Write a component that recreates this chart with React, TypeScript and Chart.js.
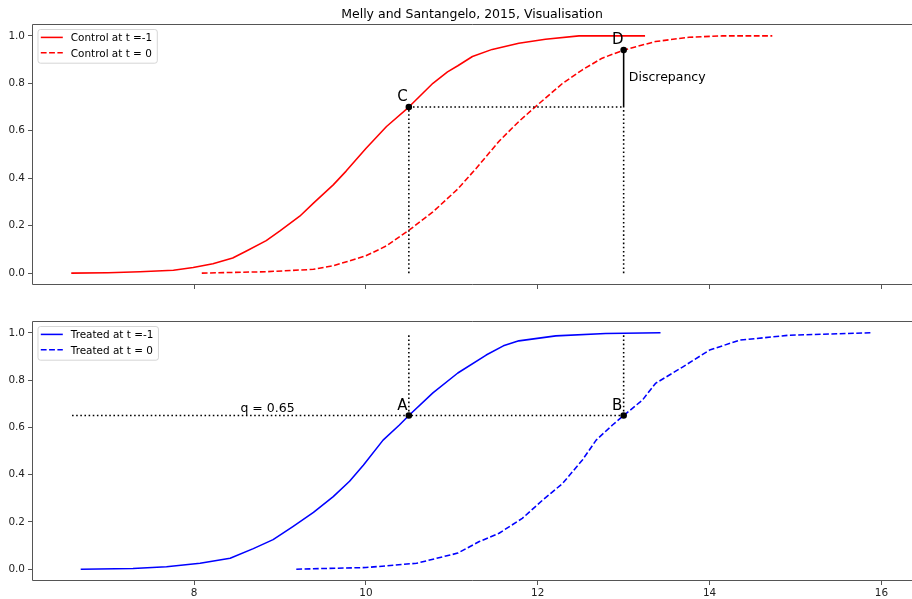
import React, { useEffect, useRef } from "react";
import { Chart, registerables } from "chart.js";

Chart.register(...registerables);

const FONT = '"DejaVu Sans", sans-serif';
const RED = "#ff0000";
const BLUE = "#0000ff";

// Empirical CDFs of the outcome, as [outcome, cumulative share]
const controlBefore: [number, number][] = [
  [6.58, 0], [7.0, 0.002], [7.37, 0.006], [7.76, 0.012], [7.99, 0.024], [8.22, 0.04],
  [8.45, 0.064], [8.61, 0.093], [8.84, 0.137], [9.0, 0.178], [9.23, 0.24], [9.39, 0.295],
  [9.62, 0.372], [9.77, 0.43], [10.0, 0.525], [10.24, 0.618], [10.5, 0.7], [10.78, 0.8],
  [10.95, 0.848], [11.07, 0.874], [11.24, 0.913], [11.47, 0.943], [11.78, 0.969], [12.09, 0.986],
  [12.48, 1.0], [13.24, 1.0],
];
const controlAfter: [number, number][] = [
  [8.09, 0], [8.84, 0.006], [9.39, 0.016], [9.62, 0.031], [10.0, 0.073], [10.24, 0.115],
  [10.51, 0.183], [10.78, 0.258], [11.07, 0.355], [11.28, 0.44], [11.55, 0.556],
  [11.78, 0.639], [12.02, 0.716], [12.29, 0.8], [12.52, 0.857], [12.75, 0.906],
  [13.0, 0.94], [13.37, 0.976], [13.76, 0.994], [14.15, 1.0], [14.73, 1.0],
];
const treatedBefore: [number, number][] = [
  [6.69, 0], [7.29, 0.003], [7.68, 0.01], [8.07, 0.025], [8.42, 0.046], [8.69, 0.087],
  [8.92, 0.125], [9.15, 0.18], [9.39, 0.24], [9.62, 0.307], [9.81, 0.372], [9.97, 0.44],
  [10.2, 0.546], [10.39, 0.61], [10.5, 0.65], [10.78, 0.746], [11.07, 0.83], [11.4, 0.906],
  [11.6, 0.945], [11.78, 0.966], [12.21, 0.987], [12.79, 0.997], [13.42, 1.0],
];
const treatedAfter: [number, number][] = [
  [9.19, 0], [10.0, 0.007], [10.59, 0.025], [11.07, 0.068], [11.32, 0.117], [11.55, 0.152],
  [11.82, 0.215], [12.06, 0.293], [12.29, 0.363], [12.52, 0.462], [12.68, 0.546],
  [12.87, 0.61], [13.0, 0.65], [13.22, 0.716], [13.37, 0.786], [13.69, 0.856], [14.0, 0.927],
  [14.35, 0.969], [14.93, 0.99], [15.88, 1.0],
];

const xTicks = [8, 10, 12, 14, 16];
const yTicks = [0, 0.2, 0.4, 0.6, 0.8, 1.0];
const xMin = 6.114;
const xMax = 16.356;
const yMin = -0.05;
const yMax = 1.05;

// Quantile construction
const quantile = 0.65;
const xA = 10.5; // treated outcome at q, t = -1
const xB = 13.0; // treated outcome at q, t = 0
const yC = 0.7; // control CDF at xA, t = -1
const yD = 0.94; // control CDF at xB, t = 0
const xStart = 6.58;

const TITLE = "Melly and Santangelo, 2015, Visualisation";

const pts = (arr: [number, number][]) => arr.map(([x, y]) => ({ x, y }));

const LW = 1.56;
const DASH = [5.8, 2.5];
const DOT = [1.56, 2.58];

function curve(data: [number, number][], color: string, dashed: boolean, order: number) {
  return {
    data: pts(data),
    borderColor: color,
    borderWidth: LW,
    borderDash: dashed ? DASH : [],
    borderCapStyle: dashed ? "butt" : "square",
    borderJoinStyle: "round",
    pointRadius: 0,
    tension: 0,
    fill: false,
    order,
  };
}

function guide(data: [number, number][], dotted: boolean, order: number) {
  return {
    data: pts(data),
    borderColor: "#000",
    borderWidth: LW,
    borderDash: dotted ? DOT : [],
    borderCapStyle: "butt",
    pointRadius: 0,
    tension: 0,
    fill: false,
    order,
  };
}

function markers(data: [number, number][]) {
  return {
    data: pts(data),
    showLine: false,
    pointRadius: 3.3,
    pointBackgroundColor: "#000",
    pointBorderWidth: 0,
    order: 0,
  };
}

function text(ctx: CanvasRenderingContext2D, s: string, x: number, y: number, size: number, align: CanvasTextAlign = "left") {
  ctx.font = `${size}px ${FONT}`;
  ctx.fillStyle = "#000";
  ctx.textAlign = align;
  ctx.textBaseline = "alphabetic";
  ctx.fillText(s, x, y);
}

function frame(ctx: CanvasRenderingContext2D, a: any) {
  ctx.strokeStyle = "#555";
  ctx.lineWidth = 1;
  ctx.setLineDash([]);
  ctx.beginPath();
  ctx.moveTo(a.right + 1, a.top + 0.5);
  ctx.lineTo(a.left + 0.5, a.top + 0.5);
  ctx.lineTo(a.left + 0.5, a.bottom - 0.5);
  ctx.lineTo(a.right + 1, a.bottom - 0.5);
  ctx.stroke();
}

type Entry = { label: string; color: string; dashed: boolean };

function legend(ctx: CanvasRenderingContext2D, left: number, top: number, entries: Entry[]) {
  const size = 10.44;
  ctx.font = `${size}px ${FONT}`;
  const tw = Math.max(...entries.map((e) => ctx.measureText(e.label).width));
  const w = 33.3 + tw + 4.6;
  const h = 33.7;
  ctx.beginPath();
  ctx.roundRect(left + 0.5, top + 0.5, w, h, 2.5);
  ctx.fillStyle = "rgba(255,255,255,0.8)";
  ctx.fill();
  ctx.strokeStyle = "rgba(204,204,204,0.8)";
  ctx.lineWidth = 1;
  ctx.stroke();
  entries.forEach((e, i) => {
    const cy = top + 8.4 + i * 15.4;
    ctx.beginPath();
    ctx.strokeStyle = e.color;
    ctx.lineWidth = LW;
    ctx.setLineDash(e.dashed ? DASH : []);
    ctx.lineCap = "butt";
    ctx.moveTo(left + 3.3, cy);
    ctx.lineTo(left + 25.3, cy);
    ctx.stroke();
    ctx.setLineDash([]);
    text(ctx, e.label, left + 33.3, cy + 4, size);
  });
}

function axes(showXLabels: boolean, xHeight: number) {
  const tickFont = { family: FONT, size: 10.44 };
  return {
    x: {
      type: "linear",
      min: xMin,
      max: xMax,
      afterBuildTicks: (s: any) => {
        s.ticks = xTicks.map((value) => ({ value }));
      },
      afterFit: (s: any) => {
        s.height = xHeight;
      },
      ticks: {
        autoSkip: false,
        maxRotation: 0,
        padding: 2,
        color: "#222",
        font: tickFont,
        callback: (v: any) => (showXLabels ? String(v) : ""),
      },
      grid: { drawOnChartArea: false, drawTicks: true, tickLength: 4, color: "#555", lineWidth: 1 },
      border: { display: false },
    },
    y: {
      type: "linear",
      min: yMin,
      max: yMax,
      afterBuildTicks: (s: any) => {
        s.ticks = yTicks.map((value) => ({ value }));
      },
      afterFit: (s: any) => {
        s.width = 32;
      },
      ticks: {
        padding: 3,
        color: "#222",
        font: tickFont,
        callback: (v: any) => Number(v).toFixed(1),
      },
      grid: { drawOnChartArea: false, drawTicks: true, tickLength: 4, color: "#555", lineWidth: 1 },
      border: { display: false },
    },
  };
}

export default function App() {
  const topRef = useRef<HTMLCanvasElement>(null);
  const bottomRef = useRef<HTMLCanvasElement>(null);

  useEffect(() => {
    const topDecor = {
      id: "topDecor",
      afterDraw(chart: any) {
        const { ctx, chartArea: a } = chart;
        const x = chart.scales.x;
        const y = chart.scales.y;
        ctx.save();
        frame(ctx, a);
        text(ctx, TITLE, (a.left + a.right) / 2, 17.5, 12.5, "center");
        text(ctx, "C", x.getPixelForValue(xA - 0.135), y.getPixelForValue(yC + 0.024), 15);
        text(ctx, "D", x.getPixelForValue(xB - 0.135), y.getPixelForValue(yD + 0.027), 15);
        text(ctx, "Discrepancy", x.getPixelForValue(13.06), y.getPixelForValue(0.808), 12.5);
        legend(ctx, a.left + 5.5, a.top + 5, [
          { label: "Control at t =-1", color: RED, dashed: false },
          { label: "Control at t = 0", color: RED, dashed: true },
        ]);
        ctx.restore();
      },
    };

    const bottomDecor = {
      id: "bottomDecor",
      afterDraw(chart: any) {
        const { ctx, chartArea: a } = chart;
        const x = chart.scales.x;
        const y = chart.scales.y;
        ctx.save();
        frame(ctx, a);
        text(ctx, "A", x.getPixelForValue(xA - 0.135), y.getPixelForValue(quantile + 0.024), 15);
        text(ctx, "B", x.getPixelForValue(xB - 0.135), y.getPixelForValue(quantile + 0.024), 15);
        text(ctx, `q = ${quantile}`, x.getPixelForValue(8.54), y.getPixelForValue(0.663), 12.5);
        legend(ctx, a.left + 5.5, a.top + 5, [
          { label: "Treated at t =-1", color: BLUE, dashed: false },
          { label: "Treated at t = 0", color: BLUE, dashed: true },
        ]);
        ctx.restore();
      },
    };

    const baseOptions = (padTop: number, showXLabels: boolean, xHeight: number) => ({
      responsive: false,
      animation: false,
      events: [],
      layout: { autoPadding: false, padding: { top: padTop, left: 0, right: 0, bottom: 0 } },
      plugins: { legend: { display: false }, tooltip: { enabled: false }, title: { display: false } },
      scales: axes(showXLabels, xHeight),
    });

    const top = new Chart(topRef.current!, {
      type: "line",
      data: {
        datasets: [
          curve(controlBefore, RED, false, 6),
          curve(controlAfter, RED, true, 5),
          guide([[xA, 0], [xA, yC]], true, 4),
          guide([[xA, yC], [xB, yC]], true, 3),
          guide([[xB, 0], [xB, yC]], true, 2),
          guide([[xB, yC], [xB, yD]], false, 1),
          markers([[xA, yC], [xB, yD]]),
        ] as any,
      },
      options: baseOptions(24, false, 15) as any,
      plugins: [topDecor],
    });

    const bottom = new Chart(bottomRef.current!, {
      type: "line",
      data: {
        datasets: [
          curve(treatedBefore, BLUE, false, 6),
          curve(treatedAfter, BLUE, true, 5),
          guide([[xStart, quantile], [xB, quantile]], true, 4),
          guide([[xA, quantile], [xA, 1]], true, 3),
          guide([[xB, quantile], [xB, 1]], true, 2),
          markers([[xA, quantile], [xB, quantile]]),
        ] as any,
      },
      options: baseOptions(21, true, 18) as any,
      plugins: [bottomDecor],
    });

    return () => {
      top.destroy();
      bottom.destroy();
    };
  }, []);

  return (
    <div style={{ position: "absolute", left: 0, top: 0, width: 912, height: 599, background: "#fff", overflow: "hidden" }}>
      <canvas ref={topRef} width={912} height={300} style={{ display: "block", width: 912, height: 300 }} />
      <canvas ref={bottomRef} width={912} height={299} style={{ display: "block", width: 912, height: 299 }} />
    </div>
  );
}
